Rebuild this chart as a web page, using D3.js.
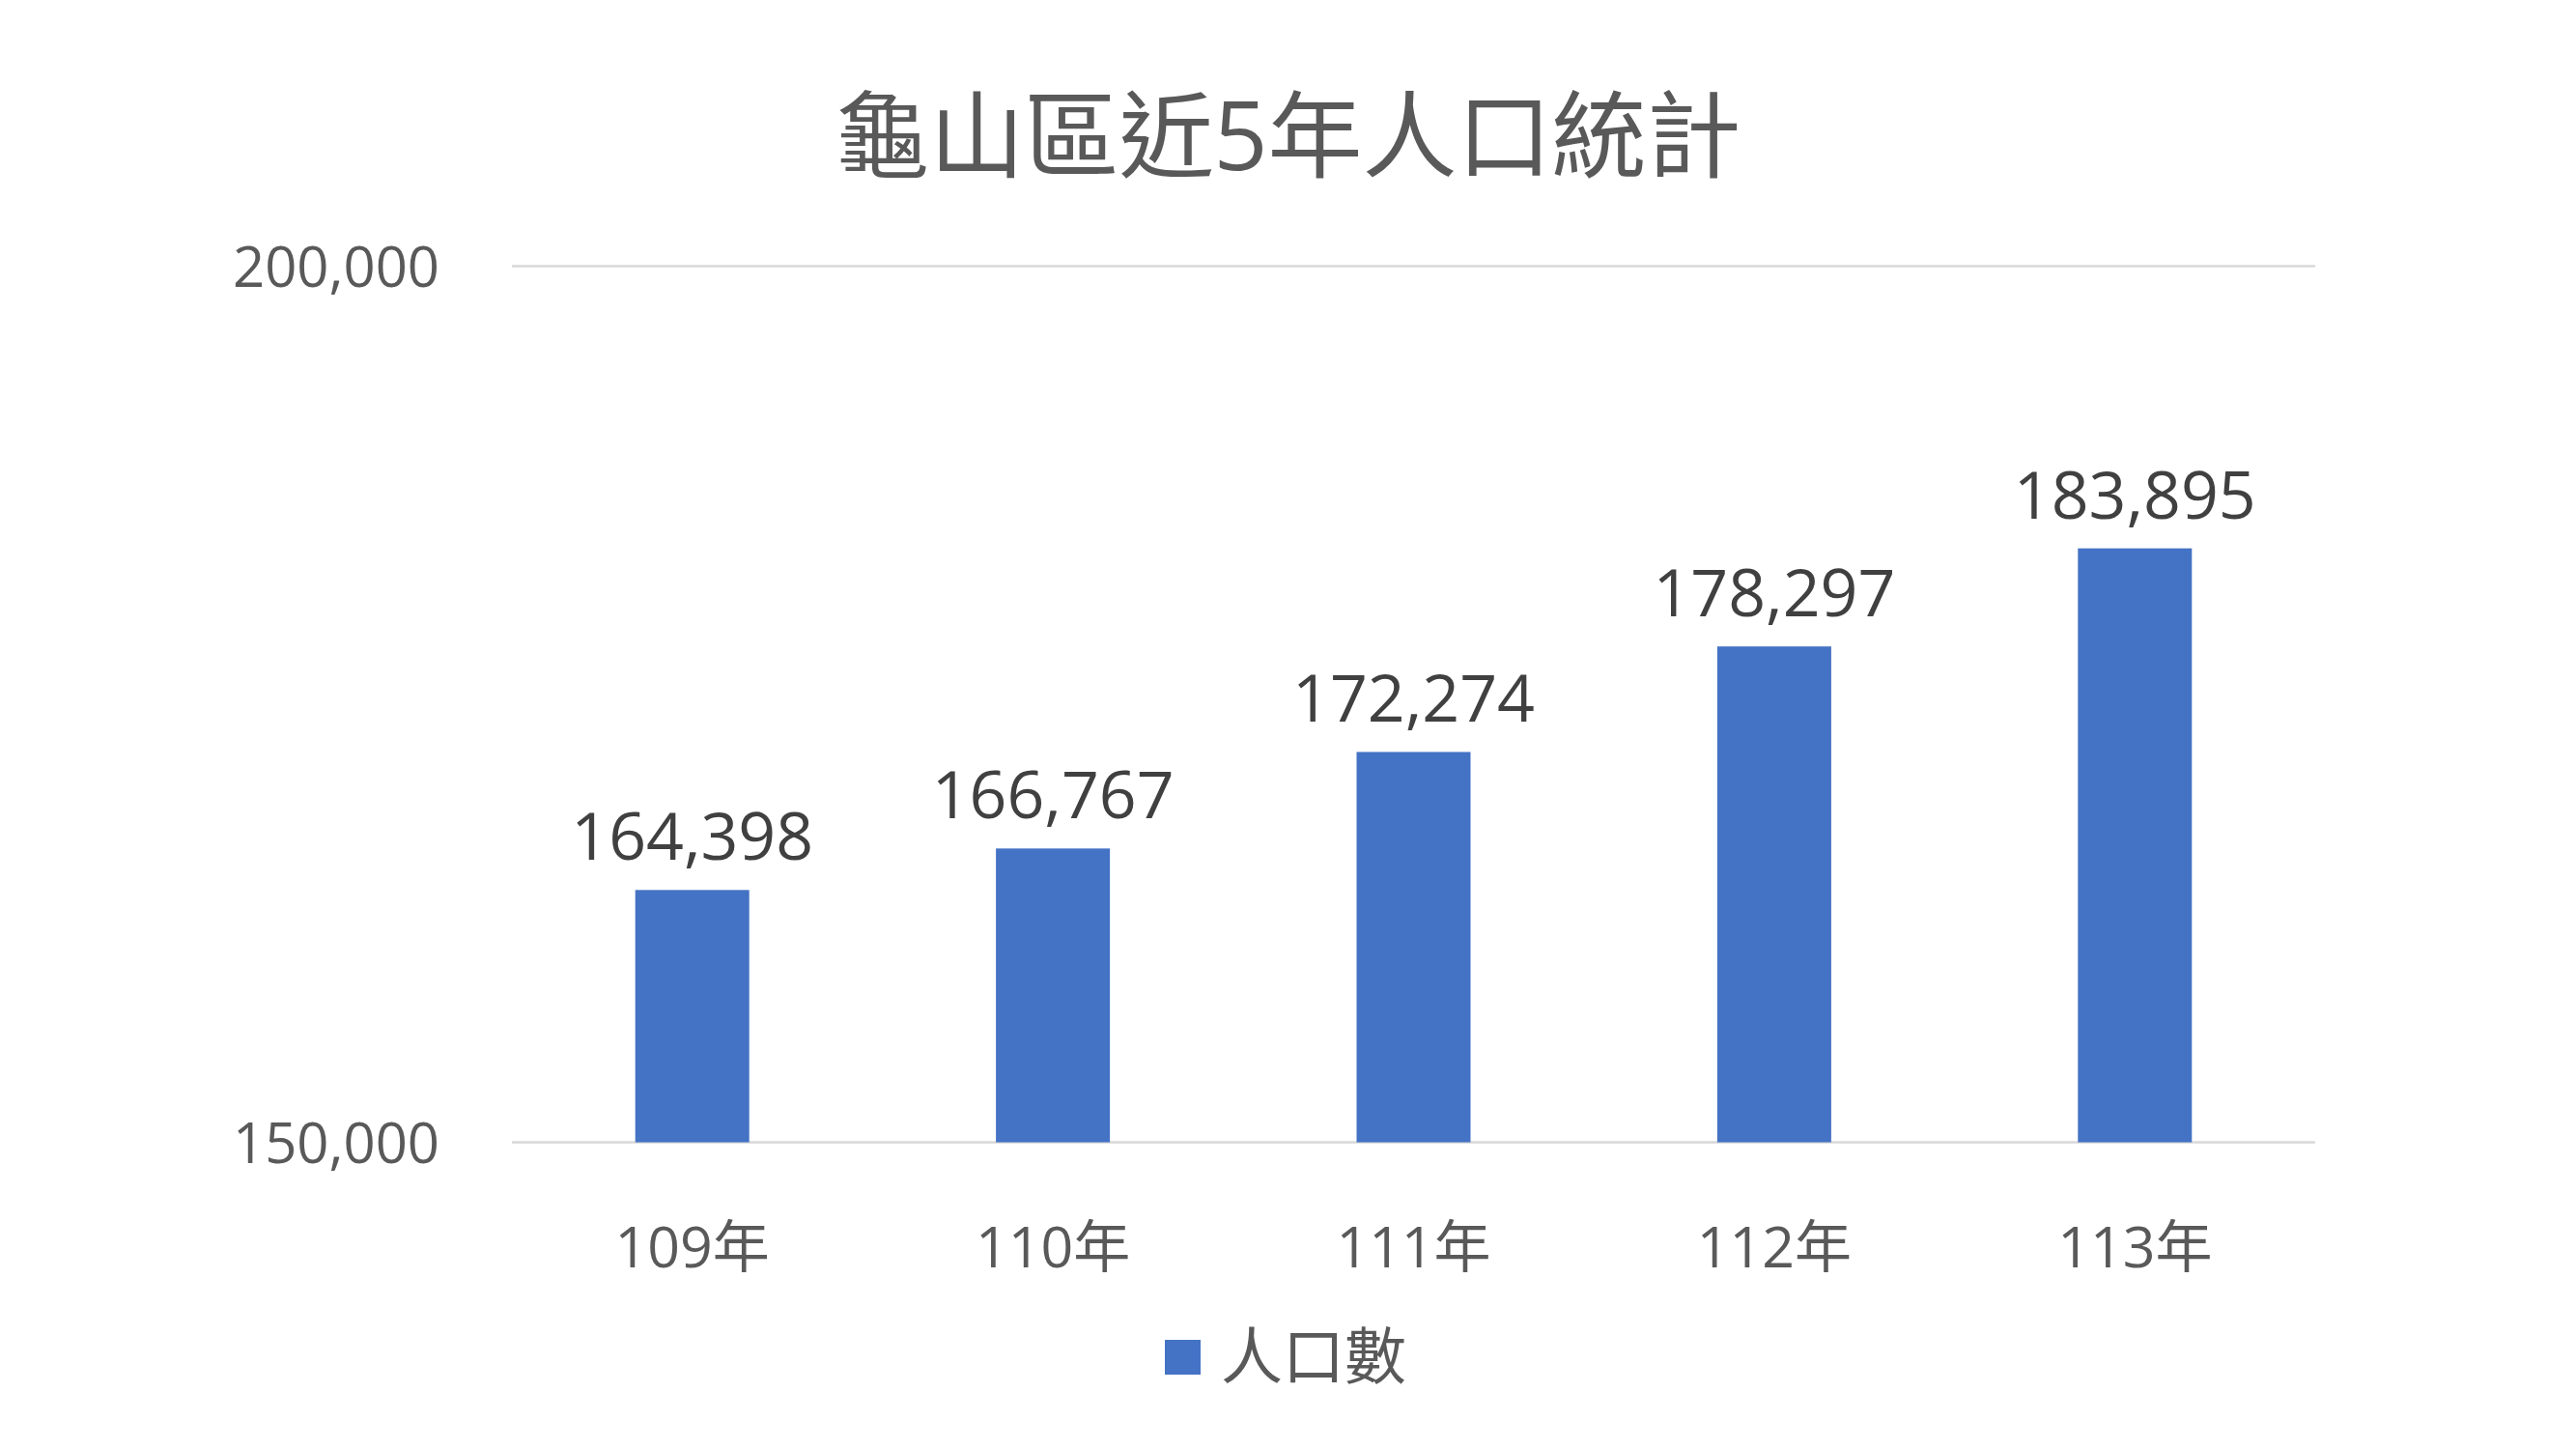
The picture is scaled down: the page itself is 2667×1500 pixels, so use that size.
<!DOCTYPE html>
<html>
<head>
<meta charset="utf-8">
<script src="https://cdn.jsdelivr.net/npm/d3@7"></script>
<style>
  html, body { margin: 0; padding: 0; background: #fff; }
  svg text { font-family: "Open Sans", "Noto Sans CJK TC", sans-serif; }
</style>
</head>
<body>
<svg id="chart" width="2667" height="1500"></svg>
<script>
// chart data
var title = "龜山區近5年人口統計";
var years = ["109年", "110年", "111年", "112年", "113年"];
var population = [164398, 166767, 172274, 178297, 183895];
var yTicks = [150000, 200000];
var seriesName = "人口數";

var svg = d3.select("#chart");
var W = 2667, H = 1500;
var margin = {left: 530, right: 270, top: 275.5, bottom: 317.5};

var x = d3.scaleBand().domain(years).range([margin.left, W - margin.right]).padding(0);
var y = d3.scaleLinear().domain([150000, 200000]).range([H - margin.bottom, margin.top]);
var barW = x.bandwidth() * 0.316;
var fmt = d3.format(",");

svg.append("rect").attr("width", W).attr("height", H).attr("fill", "#fff");

// title
svg.append("text")
    .attr("x", W / 2).attr("y", 176)
    .attr("text-anchor", "middle")
    .attr("font-size", 98)
    .attr("fill", "#595959")
    .text(title);

// gridlines
svg.selectAll(".grid").data(yTicks).enter().append("line")
    .attr("x1", margin.left).attr("x2", W - margin.right)
    .attr("y1", function(d){ return y(d) }).attr("y2", function(d){ return y(d) })
    .attr("stroke", "#d9d9d9").attr("stroke-width", 2.7);

// y axis labels
var yAxis = d3.axisLeft(y).tickValues(yTicks).tickFormat(fmt).tickSize(0).tickPadding(0);
var gy = svg.append("g").attr("transform", "translate(455,0)").call(yAxis);
gy.select(".domain").remove();
gy.selectAll("text")
    .attr("font-size", 58)
    .attr("fill", "#595959")
    .attr("dy", "0.36em")
    .style("font-family", "'Open Sans', 'Noto Sans CJK TC', sans-serif");

// bars
svg.selectAll(".bar").data(population).enter().append("rect")
    .attr("x", function(d, i){ return x(years[i]) + x.bandwidth() / 2 - barW / 2 })
    .attr("y", function(d){ return y(d) })
    .attr("width", barW)
    .attr("height", function(d){ return y(150000) - y(d) })
    .attr("fill", "#4472c4");

// value labels
svg.selectAll(".val").data(population).enter().append("text")
    .attr("x", function(d, i){ return x(years[i]) + x.bandwidth() / 2 })
    .attr("y", function(d){ return y(d) - 31 })
    .attr("text-anchor", "middle")
    .attr("font-size", 68)
    .attr("fill", "#404040")
    .text(function(d){ return fmt(d) });

// x axis labels
var xAxis = d3.axisBottom(x).tickSize(0).tickPadding(0);
var gx = svg.append("g").attr("transform", "translate(0," + (H - margin.bottom) + ")").call(xAxis);
gx.select(".domain").remove();
gx.selectAll("text")
    .attr("font-size", 59)
    .attr("fill", "#595959")
    .attr("dy", 0).attr("y", 129)
    .style("font-family", "'Open Sans', 'Noto Sans CJK TC', sans-serif");

// legend
svg.append("rect")
    .attr("x", 1206).attr("y", 1387).attr("width", 37).attr("height", 36)
    .attr("fill", "#4472c4");
svg.append("text")
    .attr("x", 1264).attr("y", 1427)
    .attr("font-size", 64)
    .attr("fill", "#595959")
    .text(seriesName);
</script>
</body>
</html>
